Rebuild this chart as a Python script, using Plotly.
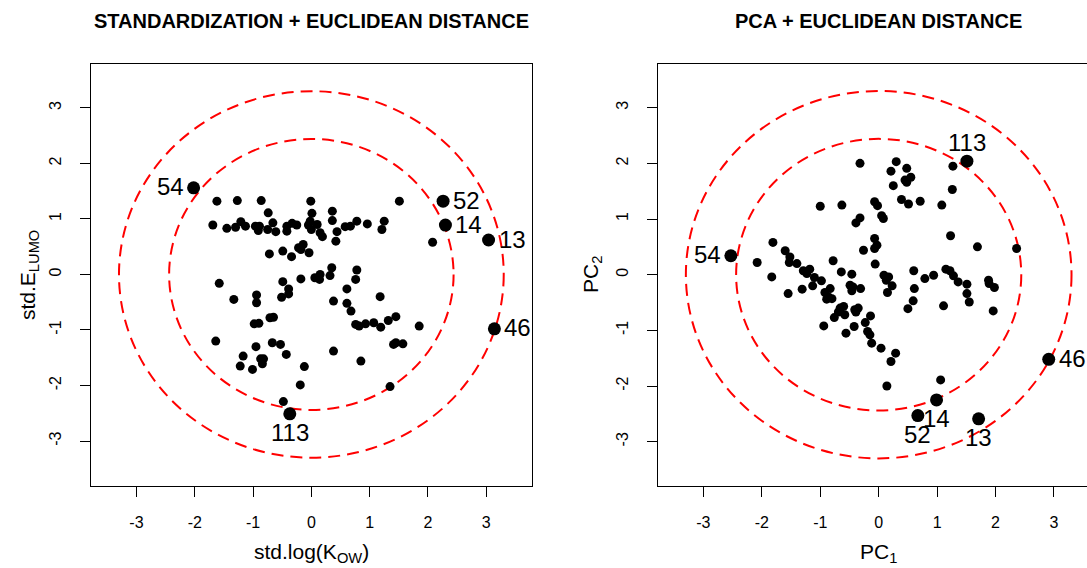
import plotly.graph_objects as go

# ---------------- data ----------------
# Left panel: standardization
std_logkow = [-1.62, -1.27, -0.86, -0.01, 1.51,
              -0.74, 0.01, 0.36,
              -1.69, -1.45, -1.30, -1.21, -1.13, -0.96, -0.89, -0.91, -0.75, -0.66, -0.61, -0.42, -0.42,
              -0.33, -0.25, -0.05, -0.02, 0.00, 0.10, 0.15, 0.19, 0.36, 0.44, 0.42, 0.58, 0.67, 0.78,
              0.96, 1.21, 1.25,
              -0.72, -0.49, -0.34, -0.22, -0.14, -0.18, -0.04, 2.08,
              0.35, 0.78, 0.15, 0.32, 0.06, 0.14, -0.18, -0.49, 0.76, -1.58,
              -0.39, -0.39, -0.51, 0.61, -0.94, -0.94, -1.33, 0.38, 0.61, 1.18, 0.68,
              -0.71, -0.65, -0.98, -0.90, 0.76, 0.82, 0.93, 1.07, 1.19, 1.32, 1.45, 1.85,
              -1.64, -0.67, -0.53, -0.95, -0.43, 0.38, 1.41, 1.45, 1.57, -1.17, -0.87, -0.82, -0.84,
              -1.22, -1.01, -0.12, 0.85,
              -0.19, 1.35, -0.48]
std_elumo = [1.32, 1.33, 1.33, 1.32, 1.32,
             1.11, 1.10, 1.14,
             0.89, 0.83, 0.85, 0.95, 0.87, 0.87, 0.87, 0.79, 0.81, 0.93, 0.77, 0.87, 0.78,
             0.92, 0.89, 0.89, 0.96, 0.81, 0.90, 0.75, 0.68, 0.97, 0.77, 0.60, 0.86, 0.87, 0.96,
             0.91, 0.81, 0.96,
             0.37, 0.42, 0.32, 0.48, 0.54, 0.45, 0.39, 0.58,
             0.12, 0.08, 0.00, -0.02, -0.06, -0.09, -0.08, -0.13, -0.09, -0.16,
             -0.26, -0.35, -0.41, -0.26, -0.37, -0.51, -0.45, -0.48, -0.52, -0.40, -0.66,
             -0.78, -0.77, -0.89, -0.88, -0.90, -0.93, -0.89, -0.87, -0.95, -0.83, -0.76, -0.93,
             -1.20, -1.23, -1.26, -1.30, -1.44, -1.38, -1.26, -1.23, -1.25, -1.47, -1.52, -1.52, -1.61,
             -1.65, -1.71, -1.66, -1.56,
             -1.99, -2.02, -2.29]
std_out_labels = ["54", "52", "14", "13", "46", "113"]
std_out_x = [-2.02, 2.26, 2.30, 3.04, 3.14, -0.37]
std_out_y = [1.56, 1.32, 0.89, 0.62, -0.98, -2.51]

# Right panel: PCA
pc1 = [-0.32, 0.30, 0.21, 0.48, 0.55, 0.45, 0.48, 0.25, 1.27, 1.26,
       0.39, 0.51, 0.71, 1.08, -1.00, -0.63, -0.07, -0.02,
       0.05, 0.08, -0.32, -0.39,
       1.23, -0.07, -0.03, -0.07, -0.26, 1.69, 2.36,
       -1.81, -1.60, -1.52, -1.53, -1.40, -2.08, -1.83, -0.78, -0.06,
       -1.29, -1.23, -1.18, -1.10, -0.98, -1.13, -1.31, -1.55,
       -0.64, -0.46, -0.49, -0.44, -0.46, -0.31,
       -0.83, -0.92, -0.86, -0.80, -0.89,
       0.09, 0.17, 0.13, 0.23, 0.15,
       0.60, 0.61, 0.79, 0.94, 1.15, 1.22, 1.28, 1.36, 1.51, 1.51, 1.55,
       1.88, 1.89, 1.98, 1.96,
       0.59, 0.50, 1.11,
       -0.76, -0.94, -0.66, -0.60, -0.69, -0.58,
       -0.41, -0.35, -0.39, -0.42, -0.56, -0.23, -0.14, -0.19, -0.15, -0.12, 0.04, 0.29, 0.21,
       0.14, 1.06]
pc2 = [2.00, 2.03, 1.86, 1.91, 1.75, 1.70, 1.66, 1.60, 1.95, 1.53,
       1.35, 1.27, 1.32, 1.25, 1.23, 1.25, 1.31, 1.24,
       1.06, 1.01, 1.02, 0.93,
       0.70, 0.65, 0.53, 0.47, 0.44, 0.50, 0.47,
       0.58, 0.43, 0.32, 0.22, 0.20, 0.22, -0.04, 0.25, 0.19,
       0.07, 0.02, 0.10, -0.05, -0.11, -0.20, -0.26, -0.34,
       0.05, 0.01, -0.19, -0.22, -0.29, -0.25,
       -0.25, -0.32, -0.40, -0.43, -0.44,
       -0.01, -0.04, -0.10, -0.20, -0.32,
       0.07, -0.25, -0.07, -0.01, 0.10, 0.07, -0.02, -0.13, -0.17, -0.34, -0.49,
       -0.10, -0.16, -0.23, -0.65,
       -0.47, -0.61, -0.56,
       -0.77, -0.92, -0.60, -0.57, -0.67, -0.72,
       -0.63, -0.60, -0.67, -0.93, -1.05, -0.86, -0.74, -1.02, -1.08, -1.23, -1.32, -1.41, -1.56,
       -2.00, -1.89]
pca_out_labels = ["113", "54", "46", "14", "52", "13"]
pca_out_x = [1.51, -2.53, 2.91, 0.99, 0.67, 1.71]
pca_out_y = [2.04, 0.34, -1.52, -2.25, -2.53, -2.59]

# circle radii (distance thresholds)
radii = [2.44, 3.30]
tick_vals = [-3, -2, -1, 0, 1, 2, 3]
tick_text = [str(v) for v in tick_vals]

# ---------------- styles / layout ----------------
W, H = 1087, 568
FONT = "Liberation Sans, Arial, Helvetica, sans-serif"
std_label_side = {"54": "left", "52": "right", "14": "right", "13": "right", "46": "right", "113": "below"}
pca_label_side = {"113": "above", "54": "left", "46": "right", "14": "below", "52": "below", "13": "below"}

fig = go.Figure()

fig.add_trace(go.Scatter(x=std_logkow, y=std_elumo, mode="markers", xaxis="x", yaxis="y",
                         marker=dict(color="black", size=9), showlegend=False, hoverinfo="skip"))
fig.add_trace(go.Scatter(x=std_out_x, y=std_out_y, mode="markers", xaxis="x", yaxis="y",
                         marker=dict(color="black", size=13), showlegend=False, hoverinfo="skip"))
fig.add_trace(go.Scatter(x=pc1, y=pc2, mode="markers", xaxis="x2", yaxis="y2",
                         marker=dict(color="black", size=9), showlegend=False, hoverinfo="skip"))
fig.add_trace(go.Scatter(x=pca_out_x, y=pca_out_y, mode="markers", xaxis="x2", yaxis="y2",
                         marker=dict(color="black", size=13), showlegend=False, hoverinfo="skip",
                         cliponaxis=False))

shapes = []
for xr, yr in (("x", "y"), ("x2", "y2")):
    for r in radii:
        shapes.append(dict(type="circle", xref=xr, yref=yr, x0=-r, x1=r, y0=-r, y1=r,
                           line=dict(color="#ff0000", width=2, dash="12px,7px"), layer="below"))

annotations = []


def add_labels(xs, ys, labels, sides, xr, yr):
    for x, y, lab in zip(xs, ys, labels):
        side = sides[lab]
        a = dict(x=x, y=y, xref=xr, yref=yr, text=lab, showarrow=False,
                 font=dict(family=FONT, size=24, color="black"))
        if side == "left":
            a.update(xanchor="right", yanchor="middle", xshift=-8, yshift=1)
        elif side == "right":
            a.update(xanchor="left", yanchor="middle", xshift=8, yshift=1)
        elif side == "below":
            a.update(xanchor="center", yanchor="middle", yshift=-19)
        else:
            a.update(xanchor="center", yanchor="middle", yshift=19)
        annotations.append(a)


add_labels(std_out_x, std_out_y, std_out_labels, std_label_side, "x", "y")
add_labels(pca_out_x, pca_out_y, pca_out_labels, pca_label_side, "x2", "y2")

# titles
annotations.append(dict(text="<b>STANDARDIZATION + EUCLIDEAN DISTANCE</b>", x=311 / W, y=1 - 21 / H,
                        xref="paper", yref="paper", showarrow=False, xanchor="center", yanchor="middle",
                        font=dict(family=FONT, size=20, color="black")))
annotations.append(dict(text="<b>PCA + EUCLIDEAN DISTANCE</b>", x=878 / W, y=1 - 21 / H,
                        xref="paper", yref="paper", showarrow=False, xanchor="center", yanchor="middle",
                        font=dict(family=FONT, size=20, color="black")))
# axis titles
annotations.append(dict(text="std.log(K<sub>OW</sub>)", x=311 / W, y=1 - 553 / H,
                        xref="paper", yref="paper", showarrow=False, xanchor="center", yanchor="middle",
                        font=dict(family=FONT, size=21, color="black")))
annotations.append(dict(text="PC<sub>1</sub>", x=878 / W, y=1 - 553 / H,
                        xref="paper", yref="paper", showarrow=False, xanchor="center", yanchor="middle",
                        font=dict(family=FONT, size=21, color="black")))
annotations.append(dict(text="std.E<sub>LUMO</sub>", x=29 / W, y=1 - 275 / H, textangle=-90,
                        xref="paper", yref="paper", showarrow=False, xanchor="center", yanchor="middle",
                        font=dict(family=FONT, size=21, color="black")))
annotations.append(dict(text="PC<sub>2</sub>", x=592 / W, y=1 - 275 / H, textangle=-90,
                        xref="paper", yref="paper", showarrow=False, xanchor="center", yanchor="middle",
                        font=dict(family=FONT, size=21, color="black")))

axis_common = dict(showgrid=False, zeroline=False, showline=True, linecolor="black", linewidth=1,
                   ticks="outside", ticklen=10, tickwidth=1, tickcolor="black",
                   tickvals=tick_vals, ticktext=tick_text,
                   tickfont=dict(family=FONT, size=16, color="black"), fixedrange=True)

ydom = [1 - 486 / H, 1 - 64 / H]
fig.update_layout(
    width=W, height=H, margin=dict(l=0, r=0, t=0, b=0),
    paper_bgcolor="white", plot_bgcolor="white",
    xaxis=dict(domain=[91 / W, 532 / W], range=[-3.78, 3.785], anchor="y", mirror=True,
               ticklabelstandoff=12, **axis_common),
    yaxis=dict(domain=ydom, range=[-3.81, 3.79], anchor="x", mirror=True, tickangle=-90,
               ticklabelstandoff=13, **axis_common),
    xaxis2=dict(domain=[658 / W, 1.0], range=[-3.777, 3.565], anchor="y2", mirror=True,
                ticklabelstandoff=12, **axis_common),
    yaxis2=dict(domain=ydom, range=[-3.796, 3.785], anchor="x2", mirror=False, tickangle=-90,
                ticklabelstandoff=13, **axis_common),
    shapes=shapes, annotations=annotations,
)

fig.write_html("out.html")
